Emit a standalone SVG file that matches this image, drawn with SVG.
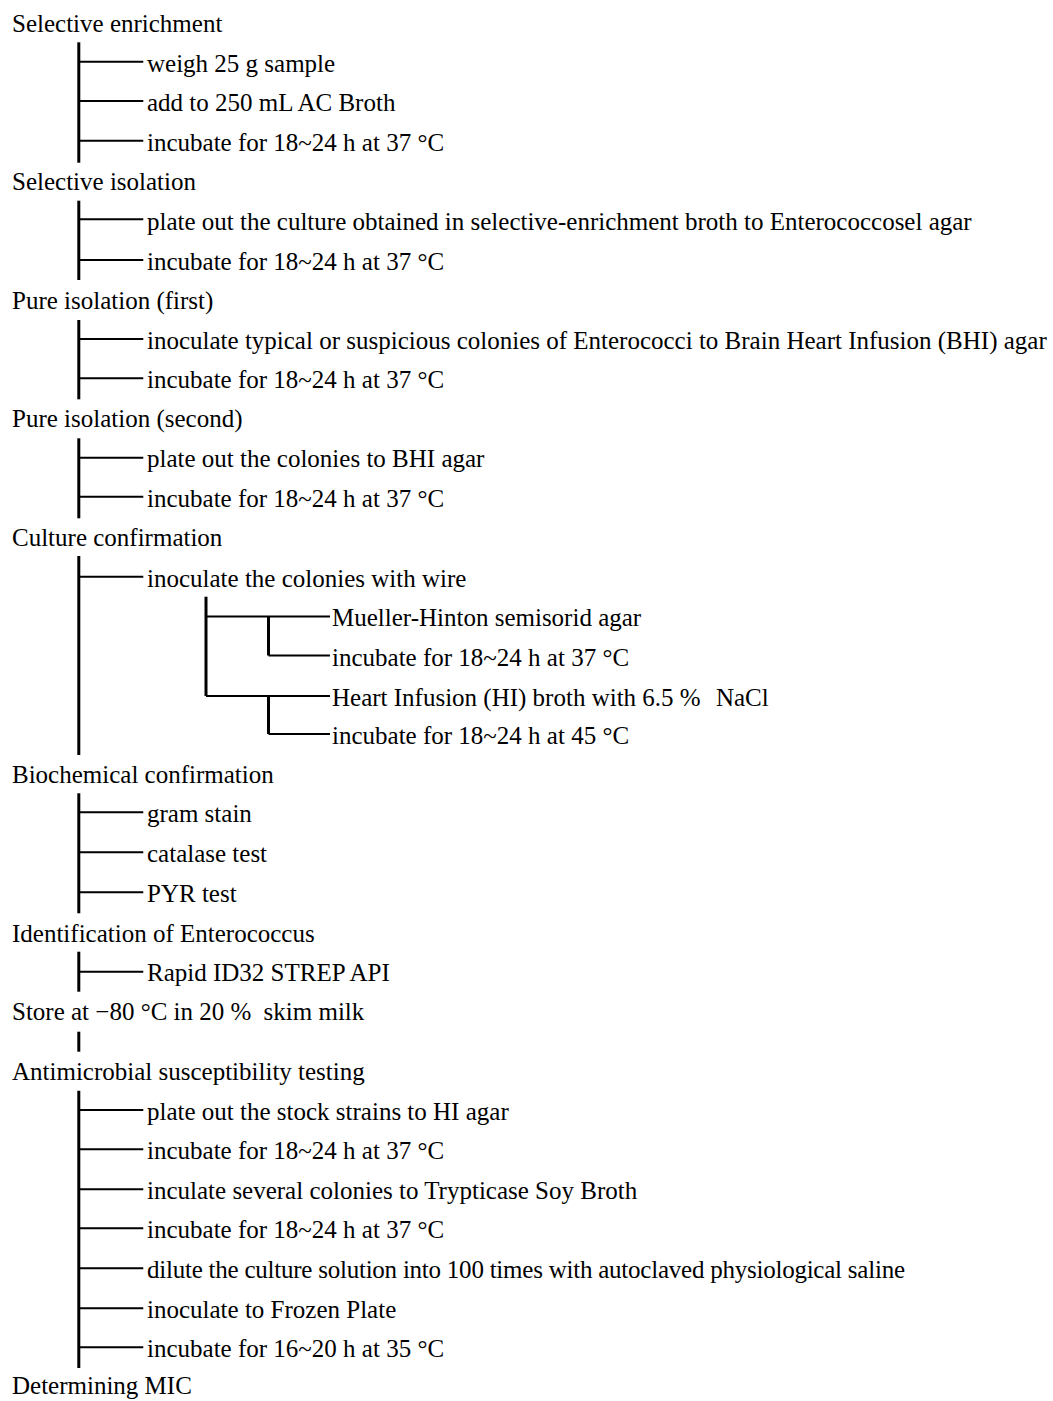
<svg xmlns="http://www.w3.org/2000/svg" width="1053" height="1401" viewBox="0 0 1053 1401">
<style>
  text { font-family: "Liberation Serif", "Times New Roman", serif; font-size: 25px; fill: #000; }
  .v { stroke: #000; stroke-width: 3; fill: none; }
  .h { stroke: #000; stroke-width: 2; fill: none; }
</style>
<rect x="0" y="0" width="1053" height="1401" fill="#fff"/>
<g id="connectors">
  <!-- Selective enrichment -->
  <line class="v" x1="78.8" y1="42.3" x2="78.8" y2="162.7"/>
  <line class="h" x1="78.8" y1="61.7" x2="143.3" y2="61.7"/>
  <line class="h" x1="78.8" y1="101" x2="143.3" y2="101"/>
  <line class="h" x1="78.8" y1="140.7" x2="143.3" y2="140.7"/>
  <!-- Selective isolation -->
  <line class="v" x1="78.8" y1="200.7" x2="78.8" y2="280"/>
  <line class="h" x1="78.8" y1="219.3" x2="143.3" y2="219.3"/>
  <line class="h" x1="78.8" y1="260" x2="143.3" y2="260"/>
  <!-- Pure isolation (first) -->
  <line class="v" x1="78.8" y1="320" x2="78.8" y2="399.3"/>
  <line class="h" x1="78.8" y1="339" x2="143.3" y2="339"/>
  <line class="h" x1="78.8" y1="378.3" x2="143.3" y2="378.3"/>
  <!-- Pure isolation (second) -->
  <line class="v" x1="78.8" y1="438.3" x2="78.8" y2="518.3"/>
  <line class="h" x1="78.8" y1="457.7" x2="143.3" y2="457.7"/>
  <line class="h" x1="78.8" y1="496.7" x2="143.3" y2="496.7"/>
  <!-- Culture confirmation -->
  <line class="v" x1="78.8" y1="556" x2="78.8" y2="755"/>
  <line class="h" x1="78.8" y1="576.7" x2="143.3" y2="576.7"/>
  <line class="v" x1="206" y1="596.7" x2="206" y2="696"/>
  <line class="h" x1="206" y1="616.5" x2="330" y2="616.5"/>
  <line class="h" x1="206" y1="696" x2="330" y2="696"/>
  <line class="v" x1="268.5" y1="616.5" x2="268.5" y2="655.5"/>
  <line class="h" x1="268.5" y1="655.5" x2="330" y2="655.5"/>
  <line class="v" x1="268.5" y1="696" x2="268.5" y2="734"/>
  <line class="h" x1="268.5" y1="734" x2="330" y2="734"/>
  <!-- Biochemical confirmation -->
  <line class="v" x1="78.8" y1="793.3" x2="78.8" y2="913.3"/>
  <line class="h" x1="78.8" y1="812.3" x2="143.3" y2="812.3"/>
  <line class="h" x1="78.8" y1="852.3" x2="143.3" y2="852.3"/>
  <line class="h" x1="78.8" y1="892.3" x2="143.3" y2="892.3"/>
  <!-- Identification -->
  <line class="v" x1="78.8" y1="951.7" x2="78.8" y2="991.7"/>
  <line class="h" x1="78.8" y1="971.7" x2="143.3" y2="971.7"/>
  <!-- Store -->
  <line class="v" x1="78.8" y1="1031.7" x2="78.8" y2="1051.7"/>
  <!-- Antimicrobial susceptibility testing -->
  <line class="v" x1="78.8" y1="1090.7" x2="78.8" y2="1368"/>
  <line class="h" x1="78.8" y1="1110" x2="143.3" y2="1110"/>
  <line class="h" x1="78.8" y1="1149.3" x2="143.3" y2="1149.3"/>
  <line class="h" x1="78.8" y1="1189.3" x2="143.3" y2="1189.3"/>
  <line class="h" x1="78.8" y1="1228.3" x2="143.3" y2="1228.3"/>
  <line class="h" x1="78.8" y1="1268.3" x2="143.3" y2="1268.3"/>
  <line class="h" x1="78.8" y1="1308.3" x2="143.3" y2="1308.3"/>
  <line class="h" x1="78.8" y1="1347.3" x2="143.3" y2="1347.3"/>
</g>
<g id="n-selective-enrichment"><text x="12" y="32">Selective enrichment</text></g>
<g id="n-weigh"><text x="147" y="71.5">weigh 25 g sample</text></g>
<g id="n-add"><text x="147" y="111">add to 250 mL AC Broth</text></g>
<g id="n-inc1"><text x="147" y="150.5">incubate for 18~24 h at 37 °C</text></g>
<g id="n-selective-isolation"><text x="12" y="190">Selective isolation</text></g>
<g id="n-plate1"><text x="147" y="229.5">plate out the culture obtained in selective-enrichment broth to Enterococcosel agar</text></g>
<g id="n-inc2"><text x="147" y="269.5">incubate for 18~24 h at 37 °C</text></g>
<g id="n-pure1"><text x="12" y="308.5">Pure isolation (first)</text></g>
<g id="n-inoc-typical"><text x="147" y="348.5">inoculate typical or suspicious colonies of Enterococci to Brain Heart Infusion (BHI) agar</text></g>
<g id="n-inc3"><text x="147" y="388">incubate for 18~24 h at 37 °C</text></g>
<g id="n-pure2"><text x="12" y="427">Pure isolation (second)</text></g>
<g id="n-plate2"><text x="147" y="467">plate out the colonies to BHI agar</text></g>
<g id="n-inc4"><text x="147" y="506.5">incubate for 18~24 h at 37 °C</text></g>
<g id="n-culture"><text x="12" y="546">Culture confirmation</text></g>
<g id="n-wire"><text x="147" y="586.5">inoculate the colonies with wire</text></g>
<g id="n-mh"><text x="332" y="626">Mueller-Hinton semisorid agar</text></g>
<g id="n-inc5"><text x="332" y="665.5">incubate for 18~24 h at 37 °C</text></g>
<g id="n-hi"><text x="332" y="705.5">Heart Infusion (HI) broth with 6.5 % <tspan dx="9">NaCl</tspan></text></g>
<g id="n-inc6"><text x="332" y="744">incubate for 18~24 h at 45 °C</text></g>
<g id="n-biochem"><text x="12" y="783">Biochemical confirmation</text></g>
<g id="n-gram"><text x="147" y="822">gram stain</text></g>
<g id="n-catalase"><text x="147" y="862">catalase test</text></g>
<g id="n-pyr"><text x="147" y="902">PYR test</text></g>
<g id="n-ident"><text x="12" y="941.5">Identification of Enterococcus</text></g>
<g id="n-rapid"><text x="147" y="981">Rapid ID32 STREP API</text></g>
<g id="n-store"><text x="12" y="1020">Store at −80 °C in 20 % <tspan dx="6">skim milk</tspan></text></g>
<g id="n-ast"><text x="12" y="1079.5">Antimicrobial susceptibility testing</text></g>
<g id="n-plate3"><text x="147" y="1120">plate out the stock strains to HI agar</text></g>
<g id="n-inc7"><text x="147" y="1159">incubate for 18~24 h at 37 °C</text></g>
<g id="n-tsb"><text x="147" y="1199">inculate several colonies to Trypticase Soy Broth</text></g>
<g id="n-inc8"><text x="147" y="1238">incubate for 18~24 h at 37 °C</text></g>
<g id="n-dilute"><text x="147" y="1278" textLength="758" lengthAdjust="spacing">dilute the culture solution into 100 times with autoclaved physiological saline</text></g>
<g id="n-frozen"><text x="147" y="1318">inoculate to Frozen Plate</text></g>
<g id="n-inc9"><text x="147" y="1357">incubate for 16~20 h at 35 °C</text></g>
<g id="n-mic"><text x="12" y="1394">Determining MIC</text></g>
</svg>
